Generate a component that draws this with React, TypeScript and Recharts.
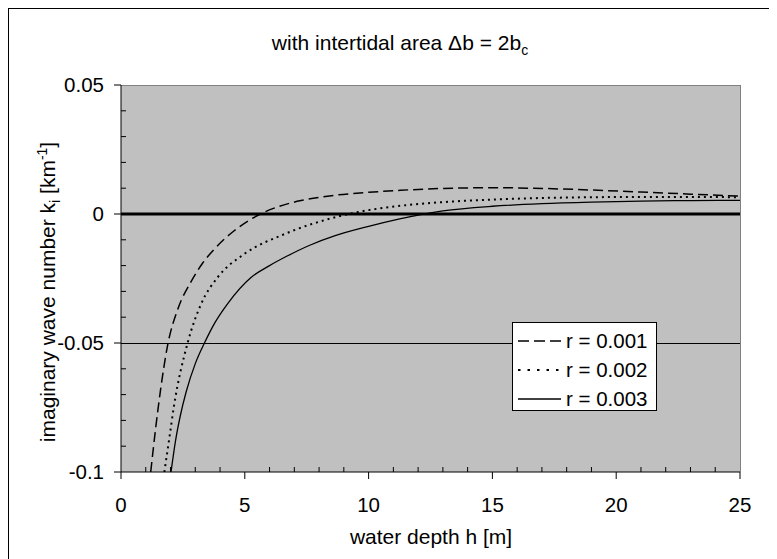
import React from 'react'
import { ComposedChart, Line, XAxis, YAxis, CartesianGrid, ReferenceLine } from 'recharts'

// ── Data ──────────────────────────────────────────────────────────────────────

// r = 0.001 (dashed)
const depthR1 = [1.2, 1.4, 1.6, 1.88, 2.29, 2.83, 3.3, 3.77, 4.57, 5.63, 6.4, 7.27, 8.5, 10, 11.3, 13, 15, 17, 19, 21, 23, 25]
const kiR1 = [-0.1, -0.083, -0.068, -0.051, -0.037, -0.0262, -0.019, -0.0136, -0.0065, 0, 0.003, 0.0052, 0.0071, 0.0084, 0.0092, 0.0099, 0.0102, 0.0099, 0.0093, 0.0085, 0.0077, 0.0069]

// r = 0.002 (dotted)
const depthR2 = [1.75, 1.95, 2.13, 2.69, 3.23, 3.9, 4.98, 6.6, 8.89, 10, 11.3, 13, 15, 17, 19, 21, 23, 25]
const kiR2 = [-0.1, -0.087, -0.075, -0.05, -0.035, -0.0246, -0.0155, -0.0078, -0.0007, 0.0015, 0.0032, 0.0046, 0.0056, 0.0062, 0.0065, 0.0066, 0.0066, 0.0065]

// r = 0.003 (solid)
const depthR3 = [2.02, 2.2, 2.4, 2.63, 3.0, 3.37, 3.8, 4.31, 5.25, 6.0, 6.73, 7.6, 8.62, 10, 11.3, 12, 13, 15, 17, 19, 21, 23, 25]
const kiR3 = [-0.1, -0.088, -0.078, -0.069, -0.058, -0.05, -0.042, -0.0347, -0.0246, -0.02, -0.0162, -0.0122, -0.0085, -0.0048, -0.0018, -0.0004, 0.0012, 0.003, 0.004, 0.0046, 0.005, 0.0052, 0.0053]

const seriesLabels = ['r = 0.001', 'r = 0.002', 'r = 0.003']

// every tick mark; the multiples of 5 (x) and 0.05 (y) are the labelled ones
const xTicks = [0, 1, 2, 3, 4, 5, 6, 7, 8, 9, 10, 11, 12, 13, 14, 15, 16, 17, 18, 19, 20, 21, 22, 23, 24, 25]
const yTicks = [0.05, 0.04, 0.03, 0.02, 0.01, 0, -0.01, -0.02, -0.03, -0.04, -0.05, -0.06, -0.07, -0.08, -0.09, -0.1]

const toPoints = (hs: number[], ks: number[]) => hs.map((h, i) => ({ h, k: ks[i] }))

const seriesData = [toPoints(depthR1, kiR1), toPoints(depthR2, kiR2), toPoints(depthR3, kiR3)]

// ── Styles ────────────────────────────────────────────────────────────────────

const seriesStyles = [
  { dash: '10 5', width: 1.5, legendDash: '11 5' },
  { dash: '2 4', width: 2, legendDash: '2.5 7' },
  { dash: undefined, width: 1.3, legendDash: undefined },
]

const FONT = '"Liberation Sans", Arial, Helvetica, sans-serif'
const TICK_FONT = 20.5
const MAJOR = 7 // outward
const MINOR = 5 // inward

// ── Ticks: major outside with label, minor inside ─────────────────────────────

function XTick(props: any) {
  const x = Number(props.x)
  const y = Number(props.y)
  const v = Number(props.payload?.value)
  const major = Math.round(v) % 5 === 0
  return (
    <g>
      <path d={`M${x},${y}V${major ? y + MAJOR : y - MINOR}`} stroke="#000" strokeWidth={1} fill="none" />
      {major && (
        <text x={x} y={y + MAJOR + 18} dy="0.71em" textAnchor="middle" fontSize={TICK_FONT} fill="#000" stroke="none">
          {v}
        </text>
      )}
    </g>
  )
}

function YTick(props: any) {
  const x = Number(props.x)
  const y = Number(props.y)
  const v = Number(props.payload?.value)
  const major = Math.round(v * 100) % 5 === 0
  return (
    <g>
      <path d={`M${major ? x - MAJOR : x},${y}H${major ? x : x + MINOR}`} stroke="#000" strokeWidth={1} fill="none" />
      {major && (
        <text x={x - MAJOR - 10} y={y} dy="0.355em" textAnchor="end" fontSize={TICK_FONT} fill="#000" stroke="none">
          {String(v)}
        </text>
      )}
    </g>
  )
}

function LegendBox() {
  return (
    <div style={styles.legend}>
      {seriesLabels.map((label, i) => (
        <div key={label} style={styles.legendRow}>
          <svg width={43} height={6} style={{ display: 'block' }}>
            <line
              x1={0}
              y1={3}
              x2={43}
              y2={3}
              stroke="#000"
              strokeWidth={seriesStyles[i].width}
              strokeDasharray={seriesStyles[i].legendDash}
            />
          </svg>
          <span style={{ marginLeft: 5 }}>{label}</span>
        </div>
      ))}
    </div>
  )
}

export default function App() {
  return (
    <div style={styles.frame}>
      <ComposedChart width={769} height={551} margin={{ top: 76, right: 38, bottom: 48, left: 0 }}>
        <CartesianGrid horizontal={false} vertical={false} fill="#C0C0C0" fillOpacity={1} />

        <XAxis
          dataKey="h"
          type="number"
          domain={[0, 25]}
          ticks={xTicks}
          interval={0}
          height={40}
          tickSize={0}
          tickMargin={0}
          tickLine={false}
          tick={(p: any) => <XTick {...p} />}
          axisLine={{ stroke: '#000' }}
          allowDataOverflow
        />
        <YAxis
          type="number"
          domain={[-0.1, 0.05]}
          ticks={yTicks}
          interval={0}
          width={112}
          tickSize={0}
          tickMargin={0}
          tickLine={false}
          tick={(p: any) => <YTick {...p} />}
          axisLine={{ stroke: '#000' }}
          allowDataOverflow
        />

        <ReferenceLine y={0.05} stroke="#808080" strokeWidth={1} shapeRendering="crispEdges" />
        <ReferenceLine x={25} stroke="#808080" strokeWidth={1} shapeRendering="crispEdges" />
        <ReferenceLine y={-0.05} stroke="#000" strokeWidth={1} shapeRendering="crispEdges" />
        <ReferenceLine y={0} stroke="#000" strokeWidth={3} />

        {seriesData.map((pts, i) => (
          <Line
            key={seriesLabels[i]}
            data={pts}
            dataKey="k"
            name={seriesLabels[i]}
            type="monotone"
            stroke="#000"
            strokeWidth={seriesStyles[i].width}
            strokeDasharray={seriesStyles[i].dash}
            dot={false}
            activeDot={false}
            isAnimationActive={false}
          />
        ))}
      </ComposedChart>

      <div style={styles.title}>
        with intertidal area Δb = 2b<span style={styles.sub}>c</span>
      </div>
      <div style={styles.yTitle}>
        imaginary wave number k<span style={styles.sub}>i</span> [km<span style={styles.sup}>-1</span>]
      </div>
      <div style={styles.xTitle}>water depth h [m]</div>
      <LegendBox />
    </div>
  )
}

const styles = {
  frame: {
    position: 'relative',
    width: 769,
    height: 551,
    borderLeft: '1px solid #000',
    borderTop: '1px solid #000',
    boxSizing: 'border-box',
    fontFamily: FONT,
    color: '#000',
  },
  title: {
    position: 'absolute',
    left: 391,
    top: 24,
    transform: 'translateX(-50%)',
    fontSize: 21,
    lineHeight: '20px',
    whiteSpace: 'nowrap',
  },
  xTitle: {
    position: 'absolute',
    left: 422,
    top: 518,
    transform: 'translateX(-50%)',
    fontSize: 21,
    lineHeight: '20px',
    whiteSpace: 'nowrap',
  },
  yTitle: {
    position: 'absolute',
    left: 40,
    top: 283,
    transform: 'translate(-50%, -50%) rotate(-90deg)',
    fontSize: 21,
    lineHeight: '20px',
    whiteSpace: 'nowrap',
  },
  sub: { fontSize: 14, position: 'relative', top: 5 },
  sup: { fontSize: 14, position: 'relative', top: -8 },
  legend: {
    position: 'absolute',
    left: 503,
    top: 313,
    width: 145,
    height: 89,
    boxSizing: 'border-box',
    border: '1px solid #000',
    background: '#fff',
    paddingTop: 3,
    paddingLeft: 5,
    fontSize: 20.5,
  },
  legendRow: { display: 'flex', alignItems: 'center', height: 29, whiteSpace: 'nowrap' },
} as const
